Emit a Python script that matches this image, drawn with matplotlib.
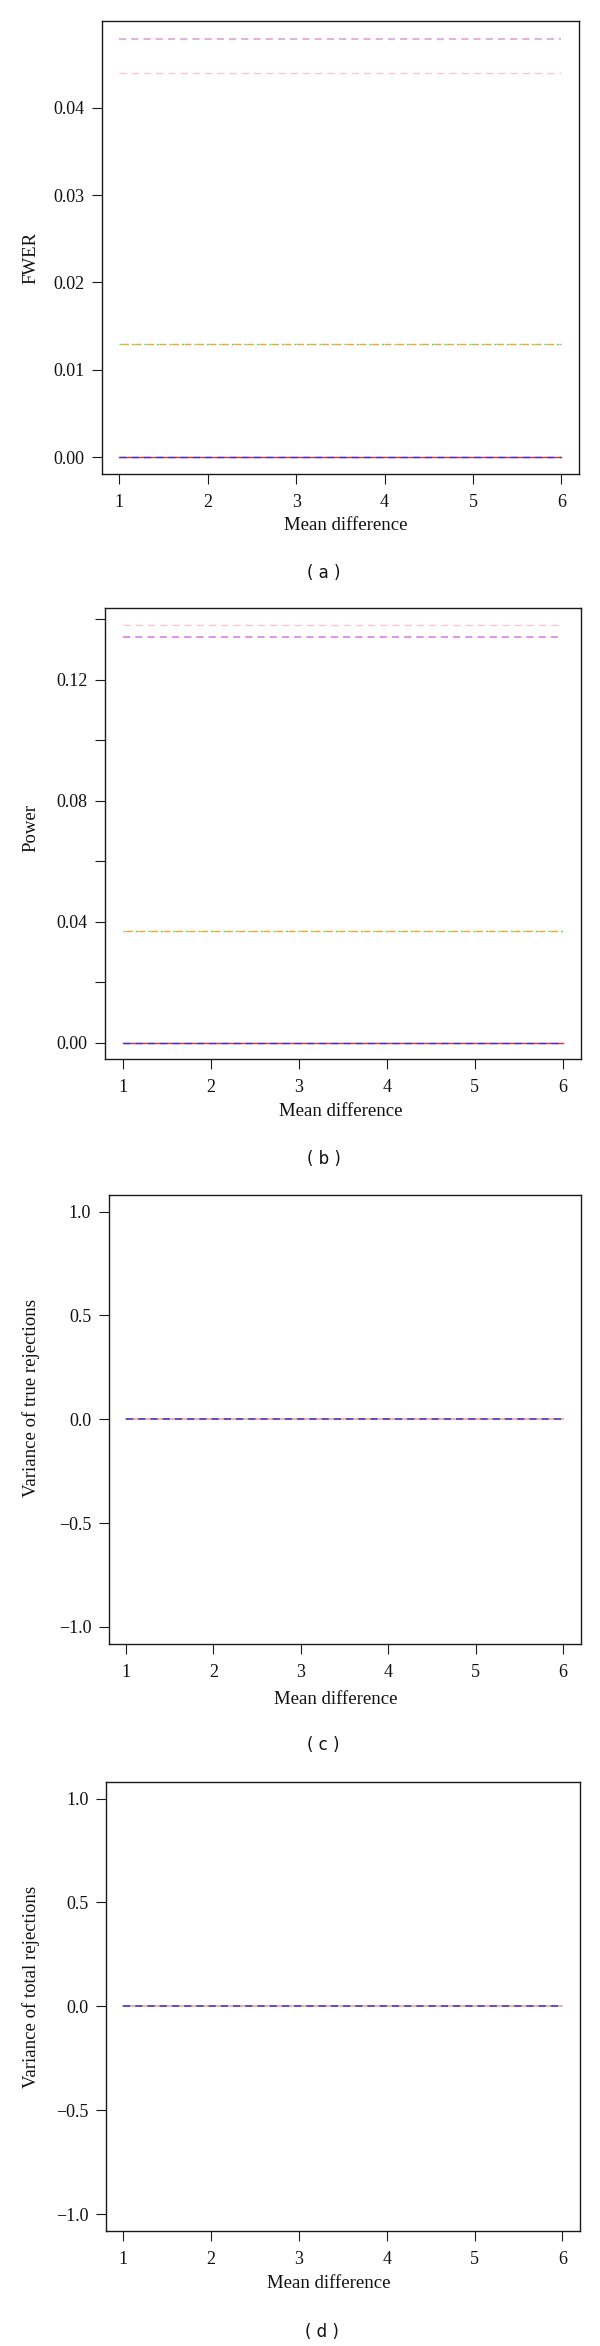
import matplotlib
matplotlib.use("Agg")
import matplotlib.pyplot as plt

plt.rcParams['font.family'] = ['Liberation Serif', 'DejaVu Serif']
plt.rcParams['lines.scale_dashes'] = False

# mean difference on the x axis
mean_diff = [1, 2, 3, 4, 5, 6]

# (a) FWER
fwer_violet = [0.0478, 0.0478, 0.0478, 0.0478, 0.0478, 0.0478]
fwer_pink = [0.0439, 0.0439, 0.0439, 0.0439, 0.0439, 0.0439]
fwer_green = [0.013, 0.013, 0.013, 0.013, 0.013, 0.013]
fwer_orange = [0.013, 0.013, 0.013, 0.013, 0.013, 0.013]
fwer_red = [0.0, 0.0, 0.0, 0.0, 0.0, 0.0]
fwer_blue = [0.0, 0.0, 0.0, 0.0, 0.0, 0.0]

# (b) Power
power_pink = [0.138, 0.138, 0.138, 0.138, 0.138, 0.138]
power_violet = [0.134, 0.134, 0.134, 0.134, 0.134, 0.134]
power_green = [0.037, 0.037, 0.037, 0.037, 0.037, 0.037]
power_orange = [0.037, 0.037, 0.037, 0.037, 0.037, 0.037]
power_red = [0.0, 0.0, 0.0, 0.0, 0.0, 0.0]
power_blue = [0.0, 0.0, 0.0, 0.0, 0.0, 0.0]

# (c) variance of true rejections, (d) variance of total rejections
var_true_salmon = [0.0, 0.0, 0.0, 0.0, 0.0, 0.0]
var_true_blue = [0.0, 0.0, 0.0, 0.0, 0.0, 0.0]
var_total_salmon = [0.0, 0.0, 0.0, 0.0, 0.0, 0.0]
var_total_blue = [0.0, 0.0, 0.0, 0.0, 0.0, 0.0]

fwer_ticks = [0.0, 0.01, 0.02, 0.03, 0.04]
fwer_labels = ["0.00", "0.01", "0.02", "0.03", "0.04"]
power_ticks = [0.0, 0.02, 0.04, 0.06, 0.08, 0.10, 0.12, 0.14]
power_labels = ["0.00", "", "0.04", "", "0.08", "", "0.12", ""]
var_ticks = [-1.0, -0.5, 0.0, 0.5, 1.0]
var_labels = ["\u22121.0", "\u22120.5", "0.0", "0.5", "1.0"]

W, H = 600, 2346
fig = plt.figure(figsize=(W / 100, H / 100), dpi=100)

DASHED = (0, (5.2, 3.6))
DOTS = (0, (1.4, 7.6))
LONGS = (7.2, (5.0, 4.0))


def make_axes(left, top, right, bottom):
    ax = fig.add_axes([left / W, 1 - bottom / H, (right - left) / W, (bottom - top) / H])
    for sp in ax.spines.values():
        sp.set_linewidth(1.0)
        sp.set_color('#1a1a1a')
    ax.tick_params(direction='out', length=7, width=0.8, color='#1a1a1a',
                   labelsize=13, labelcolor='#111111')
    ax.tick_params(axis='y', pad=5.5)
    ax.tick_params(axis='x', pad=7.5)
    ax.set_xlim(0.8, 6.2)
    ax.set_xticks(mean_diff)
    ax.set_xticklabels([str(v) for v in mean_diff])
    return ax


def texts(xl_x, xl_y, yl_x, yl_y, ylabel, tag_x, tag_y, tag):
    fig.text(xl_x / W, 1 - xl_y / H, "Mean difference", ha='center', va='center',
             fontsize=13.5, color='#111111')
    fig.text(yl_x / W, 1 - yl_y / H, ylabel, ha='center', va='center', rotation=90,
             fontsize=13.5, color='#111111')
    fig.text(tag_x / W, 1 - tag_y / H, tag, ha='center', va='center',
             fontsize=12, family='DejaVu Sans', color='#111111')


# (a)
ax = make_axes(101.7, 21, 579, 474)
ax.plot(mean_diff, fwer_red, color='#e03030', lw=1.0)
ax.plot(mean_diff, fwer_blue, color='#3535d8', lw=1.0, linestyle=DASHED)
ax.plot(mean_diff, fwer_green, color='#55d855', lw=1.0, linestyle=DOTS)
ax.plot(mean_diff, fwer_orange, color='#f2a530', lw=1.0, linestyle=LONGS)
ax.plot(mean_diff, fwer_pink, color='#ffc4cf', lw=1.0, linestyle=DASHED)
ax.plot(mean_diff, fwer_violet, color='#e0a2e0', lw=1.2, linestyle=DASHED)
ax.set_ylim(-0.0019, 0.0499)
ax.set_yticks(fwer_ticks)
ax.set_yticklabels(fwer_labels)
texts(346, 525, 31, 258, "FWER", 324, 573, "( a )")

# (b)
ax = make_axes(105, 608, 580.5, 1059)
ax.plot(mean_diff, power_red, color='#e03030', lw=1.0)
ax.plot(mean_diff, power_blue, color='#3535d8', lw=1.0, linestyle=DASHED)
ax.plot(mean_diff, power_green, color='#55d855', lw=1.0, linestyle=DOTS)
ax.plot(mean_diff, power_orange, color='#f2a530', lw=1.0, linestyle=LONGS)
ax.plot(mean_diff, power_pink, color='#ffc4cf', lw=1.0, linestyle=DASHED)
ax.plot(mean_diff, power_violet, color='#e080e0', lw=1.2, linestyle=DASHED)
ax.set_ylim(-0.0054, 0.1437)
ax.set_yticks(power_ticks)
ax.set_yticklabels(power_labels)
texts(341, 1112, 31, 828, "Power", 324, 1159, "( b )")

# (c)
ax = make_axes(108.5, 1195, 580.5, 1643.5)
ax.plot(mean_diff, var_true_salmon, color='#f4a8a0', lw=1.3)
ax.plot(mean_diff, var_true_blue, color='#3535d8', lw=1.1, linestyle=DASHED)
ax.set_ylim(-1.08, 1.08)
ax.set_yticks(var_ticks)
ax.set_yticklabels(var_labels)
texts(336, 1699, 31, 1398, "Variance of true rejections", 323, 1745, "( c )")

# (d)
ax = make_axes(105.7, 1782, 580, 2230.7)
ax.plot(mean_diff, var_total_salmon, color='#f4a8a0', lw=1.3)
ax.plot(mean_diff, var_total_blue, color='#3535d8', lw=1.1, linestyle=DASHED)
ax.set_ylim(-1.08, 1.08)
ax.set_yticks(var_ticks)
ax.set_yticklabels(var_labels)
texts(329, 2283, 31, 1987, "Variance of total rejections", 322, 2332, "( d )")

fig.savefig("out.png", dpi=100)
